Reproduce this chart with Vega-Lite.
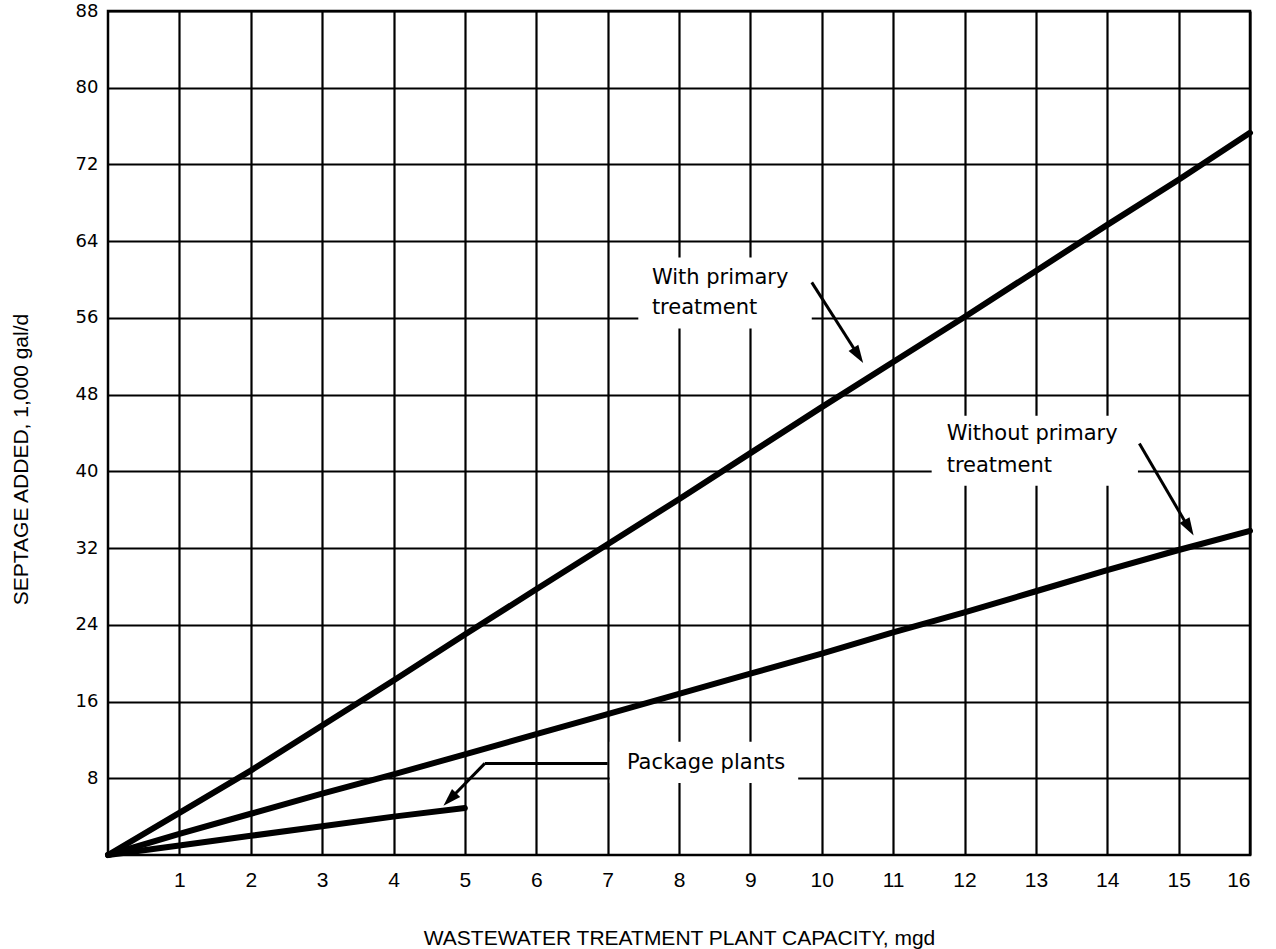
{
  "$schema": "https://vega.github.io/schema/vega-lite/v6.json",
  "width": 1142,
  "height": 844,
  "autosize": {"type": "none"},
  "padding": {"left": 108, "top": 11, "right": 26, "bottom": 94},
  "background": "white",
  "config": {
    "view": {"stroke": "black", "strokeWidth": 2.5},
    "axis": {
      "grid": true, "gridColor": "black", "gridWidth": 2.2, "gridOpacity": 1,
      "domain": false, "ticks": false,
      "labelColor": "black", "titleColor": "black", "titleFontWeight": "normal"
    }
  },
  "datasets": {
    "curves": [
      {"series": "With primary treatment", "x": 0, "y": 0},
      {"series": "With primary treatment", "x": 1, "y": 4.4},
      {"series": "With primary treatment", "x": 2, "y": 8.8},
      {"series": "With primary treatment", "x": 3, "y": 13.5},
      {"series": "With primary treatment", "x": 4, "y": 18.2},
      {"series": "With primary treatment", "x": 5, "y": 23.0},
      {"series": "With primary treatment", "x": 6, "y": 27.7},
      {"series": "With primary treatment", "x": 7, "y": 32.4},
      {"series": "With primary treatment", "x": 8, "y": 37.1},
      {"series": "With primary treatment", "x": 9, "y": 41.9},
      {"series": "With primary treatment", "x": 10, "y": 46.7},
      {"series": "With primary treatment", "x": 11, "y": 51.4},
      {"series": "With primary treatment", "x": 12, "y": 56.1},
      {"series": "With primary treatment", "x": 13, "y": 60.9},
      {"series": "With primary treatment", "x": 14, "y": 65.7},
      {"series": "With primary treatment", "x": 15, "y": 70.4},
      {"series": "With primary treatment", "x": 16, "y": 75.3},
      {"series": "Without primary treatment", "x": 0, "y": 0},
      {"series": "Without primary treatment", "x": 1, "y": 2.2},
      {"series": "Without primary treatment", "x": 2, "y": 4.3},
      {"series": "Without primary treatment", "x": 3, "y": 6.4},
      {"series": "Without primary treatment", "x": 4, "y": 8.4},
      {"series": "Without primary treatment", "x": 5, "y": 10.5},
      {"series": "Without primary treatment", "x": 6, "y": 12.6},
      {"series": "Without primary treatment", "x": 7, "y": 14.7},
      {"series": "Without primary treatment", "x": 8, "y": 16.8},
      {"series": "Without primary treatment", "x": 9, "y": 18.9},
      {"series": "Without primary treatment", "x": 10, "y": 21.0},
      {"series": "Without primary treatment", "x": 11, "y": 23.2},
      {"series": "Without primary treatment", "x": 12, "y": 25.3},
      {"series": "Without primary treatment", "x": 13, "y": 27.5},
      {"series": "Without primary treatment", "x": 14, "y": 29.7},
      {"series": "Without primary treatment", "x": 15, "y": 31.8},
      {"series": "Without primary treatment", "x": 16, "y": 33.8},
      {"series": "Package plants", "x": 0, "y": 0},
      {"series": "Package plants", "x": 1, "y": 1.0},
      {"series": "Package plants", "x": 2, "y": 2.0},
      {"series": "Package plants", "x": 3, "y": 3.0},
      {"series": "Package plants", "x": 4, "y": 4.0},
      {"series": "Package plants", "x": 5, "y": 4.9}
    ],
    "boxes": [
      {"x": 7.43, "x2": 9.86, "y": 54.9, "y2": 62.3},
      {"x": 11.54, "x2": 14.43, "y": 38.5, "y2": 45.8},
      {"x": 7.03, "x2": 9.67, "y": 7.5, "y2": 11.8}
    ],
    "labels": [
      {"x": 7.62, "y": 60.2, "text": "With primary"},
      {"x": 7.62, "y": 57.0, "text": "treatment"},
      {"x": 11.75, "y": 43.9, "text": "Without primary"},
      {"x": 11.75, "y": 40.6, "text": "treatment"},
      {"x": 7.27, "y": 9.6, "text": "Package plants"}
    ],
    "leaders": [
      {"x": 9.86, "y": 59.7, "x2": 10.52, "y2": 52.0},
      {"x": 14.45, "y": 42.9, "x2": 15.15, "y2": 34.0},
      {"x": 7.0, "y": 9.55, "x2": 5.28, "y2": 9.55},
      {"x": 5.28, "y": 9.55, "x2": 4.78, "y2": 5.73}
    ],
    "heads": [
      {"x": 10.58, "y": 51.3, "angle": 147.5},
      {"x": 15.21, "y": 33.3, "angle": 149.7},
      {"x": 4.70, "y": 5.13, "angle": 224.5}
    ]
  },
  "encoding": {
    "x": {
      "field": "x", "type": "quantitative",
      "scale": {"domain": [0, 16], "nice": false, "zero": false},
      "axis": {
        "values": [1,2,3,4,5,6,7,8,9,10,11,12,13,14,15,16],
        "labelFont": "Liberation Sans",
        "labelFontSize": 21,
        "labelPadding": 14,
        "labelBaseline": "top",
        "title": "WASTEWATER TREATMENT PLANT CAPACITY, mgd",
        "titleFont": "Liberation Sans",
        "titleFontSize": 21,
        "titleBaseline": "middle",
        "titleY": 83
      }
    },
    "y": {
      "field": "y", "type": "quantitative",
      "scale": {"domain": [0, 88], "nice": false, "zero": false},
      "axis": {
        "values": [8,16,24,32,40,48,56,64,72,80,88],
        "labelFont": "DejaVu Sans",
        "labelFontSize": 18,
        "labelPadding": 10,
        "title": "SEPTAGE ADDED, 1,000 gal/d",
        "titleFont": "Liberation Sans",
        "titleFontSize": 21,
        "titleBaseline": "middle",
        "titleX": -87,
        "titleY": 448
      }
    }
  },
  "layer": [
    {
      "data": {"name": "boxes"},
      "mark": {"type": "rect", "fill": "white", "stroke": null},
      "encoding": {
        "x2": {"field": "x2"},
        "y2": {"field": "y2"}
      }
    },
    {
      "data": {"name": "curves"},
      "mark": {"type": "line", "color": "black", "strokeWidth": 6, "strokeCap": "round", "strokeJoin": "round"},
      "encoding": {
        "detail": {"field": "series"}
      }
    },
    {
      "data": {"name": "leaders"},
      "mark": {"type": "rule", "color": "black", "strokeWidth": 3},
      "encoding": {
        "x2": {"field": "x2"},
        "y2": {"field": "y2"}
      }
    },
    {
      "data": {"name": "heads"},
      "mark": {"type": "point", "shape": "M0,0L-0.32,1L0.32,1Z", "filled": true, "color": "black", "opacity": 1, "size": 1300, "strokeWidth": 0},
      "encoding": {
        "angle": {"field": "angle", "type": "quantitative", "scale": null}
      }
    },
    {
      "data": {"name": "labels"},
      "mark": {"type": "text", "align": "left", "baseline": "middle", "font": "DejaVu Sans", "fontSize": 21, "color": "black"},
      "encoding": {
        "text": {"field": "text"}
      }
    }
  ]
}
